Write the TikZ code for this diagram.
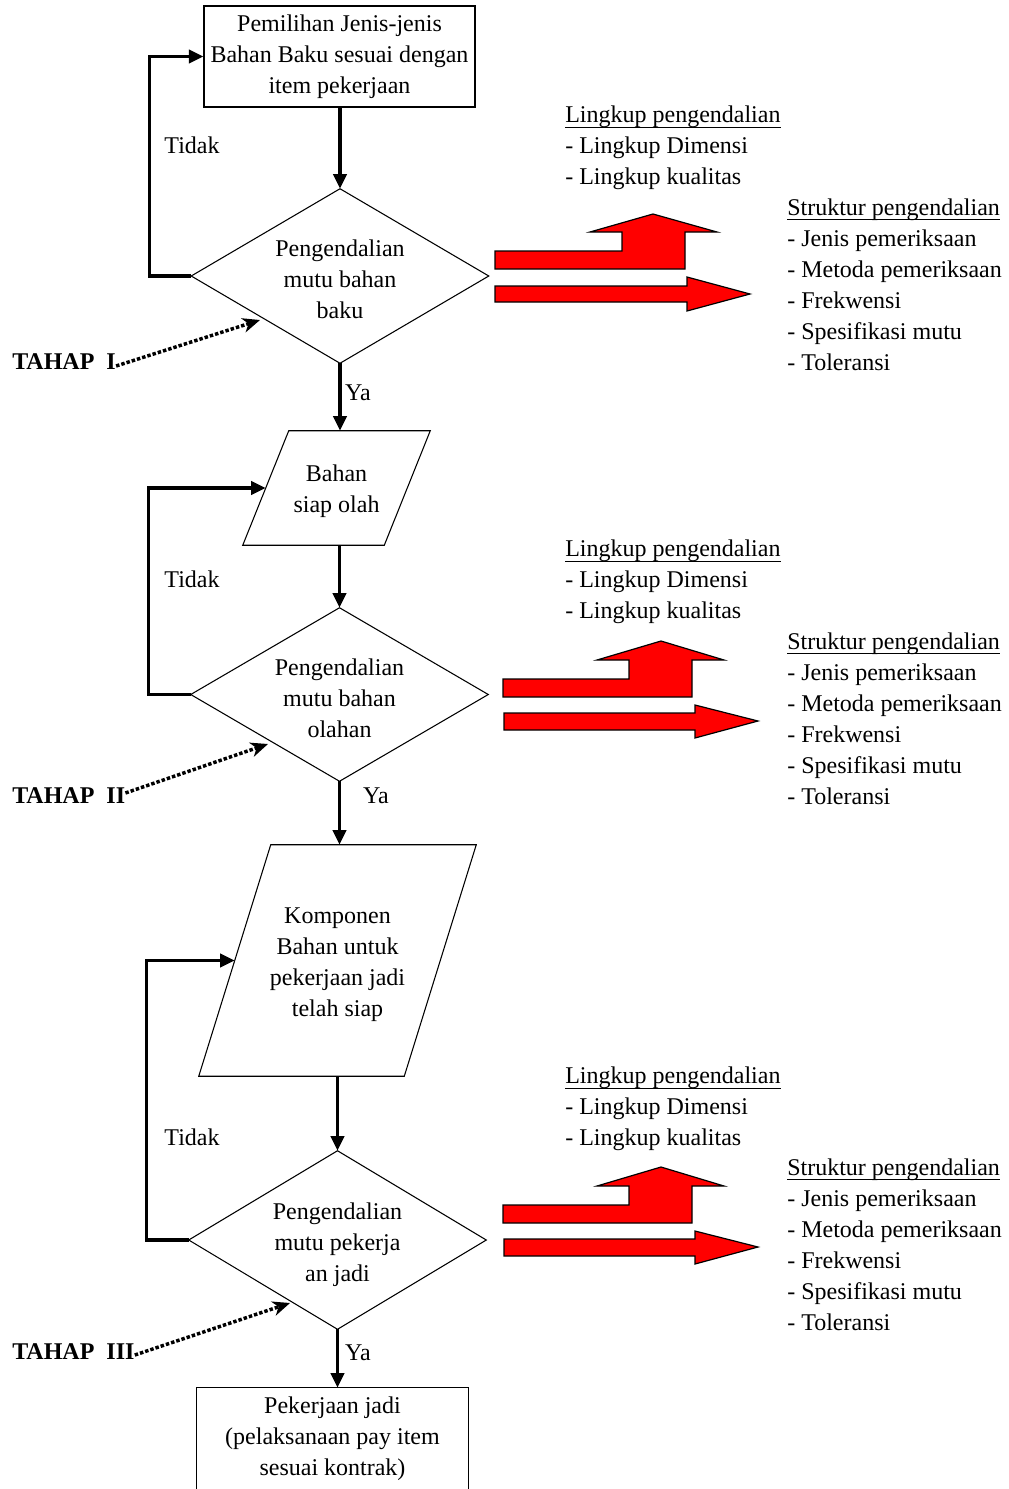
\documentclass[tikz,border=0pt]{standalone}
\usepackage{fontspec}
\setmainfont{Liberation Serif}
\usetikzlibrary{arrows.meta,calc}
% heading underline that sits just under the baseline
\newcommand\headline[1]{\underline{\raisebox{0pt}[\height][2pt]{#1}}}
\tikzset{
  txt/.style={font=\fontsize{18}{23.25}\selectfont, inner sep=0pt},
  boxnode/.style={txt, draw, line width=0.8pt, align=center},
  frame/.style={inner sep=0pt},
  ghost/.style={txt, align=center},
  outline/.style={draw, line width=0.8pt},
  flow/.style={line width=2.3pt, -{Triangle[length=11pt,width=10pt]}},
  loop/.style={line width=2.3pt, -{Triangle[length=11pt,width=10pt]}},
  pointer/.style={line width=2.6pt, dash pattern=on 2.6pt off 1.5pt,
                  -{Stealth[length=13pt,width=11pt,inset=4pt]}},
  redarrow/.style={fill=red, draw=black, line width=0.9pt, line join=miter},
  label/.style={txt, align=left, anchor=west},
  stage/.style={txt, font=\fontsize{18}{23.25}\selectfont\bfseries, anchor=west}
}
\begin{document}
\begin{tikzpicture}[x=0.75pt, y=-0.75pt]
\useasboundingbox (0,0) rectangle (1008,1489);
\clip (0,0) rectangle (1008,1489);

% ---- main column: outlines ----
\node[boxnode, minimum width=203.25pt, minimum height=75.75pt] (box1) at (339.5,56.5)
  {Pemilihan Jenis-jenis\\Bahan Baku sesuai dengan\\item pekerjaan};

\node[frame, minimum width=222.75pt, minimum height=130.5pt] (d1) at (340,276) {};
\draw[outline] (d1.north) -- (d1.east) -- (d1.south) -- (d1.west) -- cycle;

\node[frame, minimum width=140.25pt, minimum height=85.5pt] (p1) at (336.5,488) {};
\draw[outline] ($(p1.north west)+(46,0)$) -- (p1.north east)
  -- ($(p1.south east)+(-46,0)$) -- (p1.south west) -- cycle;
\coordinate (p1in) at ($(p1.west)+(23,0)$);

\node[frame, minimum width=222.75pt, minimum height=129.75pt] (d2) at (339.5,694.5) {};
\draw[outline] (d2.north) -- (d2.east) -- (d2.south) -- (d2.west) -- cycle;

\node[frame, minimum width=207.75pt, minimum height=173.25pt] (p2) at (337.5,960.5) {};
\draw[outline] ($(p2.north west)+(72,0)$) -- (p2.north east)
  -- ($(p2.south east)+(-72,0)$) -- (p2.south west) -- cycle;
\coordinate (p2in) at ($(p2.west)+(36,0)$);

\node[frame, minimum width=222.75pt, minimum height=133.5pt] (d3) at (337.5,1240) {};
\draw[outline] (d3.north) -- (d3.east) -- (d3.south) -- (d3.west) -- cycle;

\node[frame, minimum width=203.25pt, minimum height=72pt] (box2) at (332.5,1436) {};
\draw[outline] ($(box2.south west)+(0,30)$) -- (box2.north west)
  -- (box2.north east) -- ($(box2.south east)+(0,30)$);

% ---- main column: texts ----
\node[ghost] (d1t) at ($(d1)+(0,3)$) {Pengendalian\\mutu bahan\\baku};
\node[ghost] (p1t) at ($(p1)+(0,3)$) {Bahan\\siap olah};
\node[ghost] (d2t) at ($(d2)+(0,4)$) {Pengendalian\\mutu bahan\\olahan};
\node[ghost] (p2t) at ($(p2)+(0,4)$) {Komponen\\Bahan untuk\\pekerjaan jadi\\telah siap};
\node[ghost] (d3t) at ($(d3)+(0,5)$) {Pengendalian\\mutu pekerja\\an jadi};
\node[ghost] (box2t) at ($(box2)+(0,3)$) {Pekerjaan jadi\\(pelaksanaan pay item\\sesuai kontrak)};

% ---- forward flow ----
\draw[flow] (box1.south -| d1.north) -- (d1.north);
\draw[flow] (d1.south) -- (d1.south |- p1.north);
\draw[flow] (d2.north |- p1.south) -- (d2.north);
\draw[flow] (d2.south) -- (d2.south |- p2.north);
\draw[flow] (d3.north |- p2.south) -- (d3.north);
\draw[flow] (d3.south) -- (d3.south |- box2.north);

% ---- return loops ----
\draw[loop] (d1.west) -- ++(-42,0) |- (box1.west);
\draw[loop] (d2.west) -- ++(-42,0) |- (p1in);
\draw[loop] (d3.west) -- ++(-42,0) |- (p2in);

\node[txt] (no1) at (192,145) {Tidak};
\node[txt] (no2) at (192,579) {Tidak};
\node[txt] (no3) at (192,1137) {Tidak};
\node[txt] (yes1) at (358,393) {Ya};
\node[txt] (yes2) at (376,796) {Ya};
\node[txt] (yes3) at (358,1353) {Ya};

% ---- stage labels ----
\node[stage] (t1) at (12,362) {TAHAP\ \ I};
\node[stage] (t2) at (12,796) {TAHAP\ \ II};
\node[stage] (t3) at (12,1352) {TAHAP\ \ III};
\coordinate (t1tip) at (260,320);
\coordinate (t2tip) at (268,744);
\coordinate (t3tip) at (290,1303);
\draw[pointer] ($(t1.east)+(0,4)$) -- (t1tip);
\draw[pointer] ($(t2.east)+(0,-3)$) -- (t2tip);
\draw[pointer] ($(t3.east)+(0,3)$) -- (t3tip);

% ---- red block arrows ----
\draw[redarrow] (495,251) -- (622,251) -- (622,232) -- (590,232) -- (653,214)
  -- (717,232) -- (685,232) -- (685,269) -- (495,269) -- cycle;
\draw[redarrow] (495,286) -- (687,286) -- (687,277) -- (750,294) -- (687,311)
  -- (687,302) -- (495,302) -- cycle;
\foreach \dy in {0,526} {
  \begin{scope}[shift={(0,\dy)}]
  \draw[redarrow] (503,679) -- (629,679) -- (629,660) -- (597,660) -- (661,641)
    -- (724,660) -- (692,660) -- (692,697) -- (503,697) -- cycle;
  \draw[redarrow] (504,713) -- (695,713) -- (695,705) -- (758,721) -- (695,738)
    -- (695,730) -- (504,730) -- cycle;
  \end{scope}
}

% ---- side notes ----
\node[label] (l1) at (565,148)
  {\headline{Lingkup pengendalian}\\- Lingkup Dimensi\\- Lingkup kualitas};
\node[label] (s1) at (787,284.5)
  {\headline{Struktur pengendalian}\\- Jenis pemeriksaan\\- Metoda pemeriksaan\\- Frekwensi\\- Spesifikasi mutu\\- Toleransi};
\node[label] (l2) at (565,582)
  {\headline{Lingkup pengendalian}\\- Lingkup Dimensi\\- Lingkup kualitas};
\node[label] (s2) at (787,718.5)
  {\headline{Struktur pengendalian}\\- Jenis pemeriksaan\\- Metoda pemeriksaan\\- Frekwensi\\- Spesifikasi mutu\\- Toleransi};
\node[label] (l3) at (565,1109)
  {\headline{Lingkup pengendalian}\\- Lingkup Dimensi\\- Lingkup kualitas};
\node[label] (s3) at (787,1244.5)
  {\headline{Struktur pengendalian}\\- Jenis pemeriksaan\\- Metoda pemeriksaan\\- Frekwensi\\- Spesifikasi mutu\\- Toleransi};
\end{tikzpicture}
\end{document}
